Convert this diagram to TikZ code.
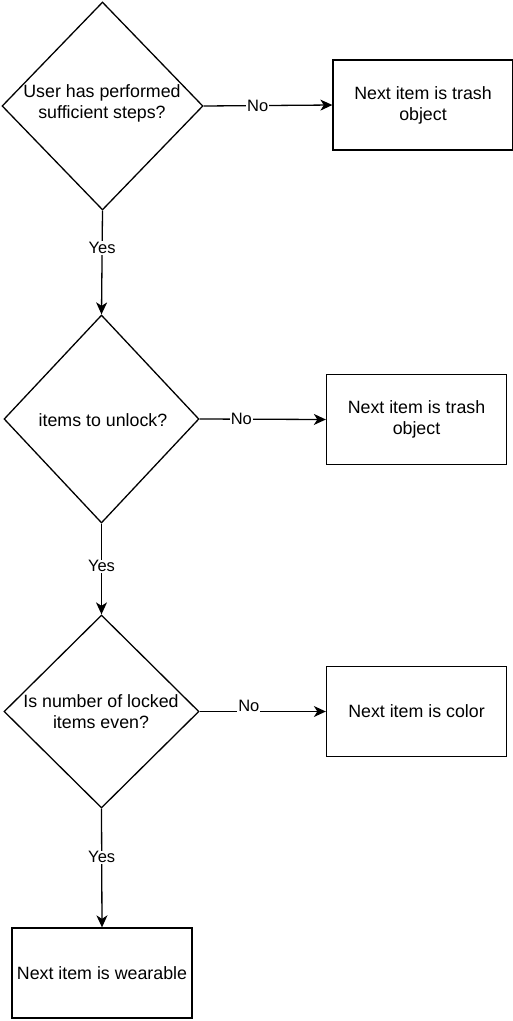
\documentclass[tikz,border=0pt]{standalone}
\usepackage{fontspec}
\setmainfont{Liberation Sans}
\usetikzlibrary{shapes.geometric,arrows.meta}
\begin{document}
\begin{tikzpicture}[x=1pt,y=-1pt,
  dshape/.style={diamond,draw,line width=1.3pt,inner sep=0pt},
  dtext/.style={align=center,inner sep=0pt,font=\fontsize{17.8}{21}\selectfont},
  act/.style={rectangle,draw,line width=1.3pt,inner sep=0pt,minimum width=180pt,minimum height=90pt,align=center,font=\fontsize{17.8}{21}\selectfont},
  conn/.style={line width=1.3pt,-{Stealth[length=12pt,width=11pt,inset=3.5pt]}},
  lbl/.style={fill=white,inner sep=1pt,font=\fontsize{16.5}{19}\selectfont}]
\useasboundingbox (0,0) rectangle (513,1021);

% decisions
\node[dshape,minimum width=201pt,minimum height=208pt] (d1) at (102.5,106) {};
\node[dtext] (t1) at (102,103) {User has performed\\sufficient steps?};
\node[dshape,minimum width=195pt,minimum height=208pt] (d2) at (101.5,419) {};
\node[dtext] (t2) at (103,420) {items to unlock?};
\node[dshape,minimum width=195pt,minimum height=193pt] (d3) at (101.5,711.5) {};
\node[dtext] (t3) at (101,712) {Is number of locked\\items even?};

% actions
\node[act] (b1) at (423,105) {Next item is trash\\object};
\node[act] (b2) at (416.5,419.5) {Next item is trash\\object};
\node[act] (b3) at (416.5,711.5) {Next item is color};
\node[act] (b4) at (102,973) {Next item is wearable};

% connectors
\draw[conn] (d1.east) -- (b1.west) node[lbl,pos=0.42] (n1) {No};
\draw[conn] (d2.east) -- (b2.west) node[lbl,pos=0.33] (n2) {No};
\draw[conn] (d3.east) -- (b3.west) node[lbl,pos=0.39,yshift=6pt] (n3) {No};
\draw[conn] (d1.south) -- (d2.north) node[lbl,pos=0.36] (y1) {Yes};
\draw[conn] (d2.south) -- (d3.north) node[lbl,pos=0.47] (y2) {Yes};
\draw[conn] (d3.south) -- (b4.north) node[lbl,pos=0.41] (y3) {Yes};
\end{tikzpicture}
\end{document}
